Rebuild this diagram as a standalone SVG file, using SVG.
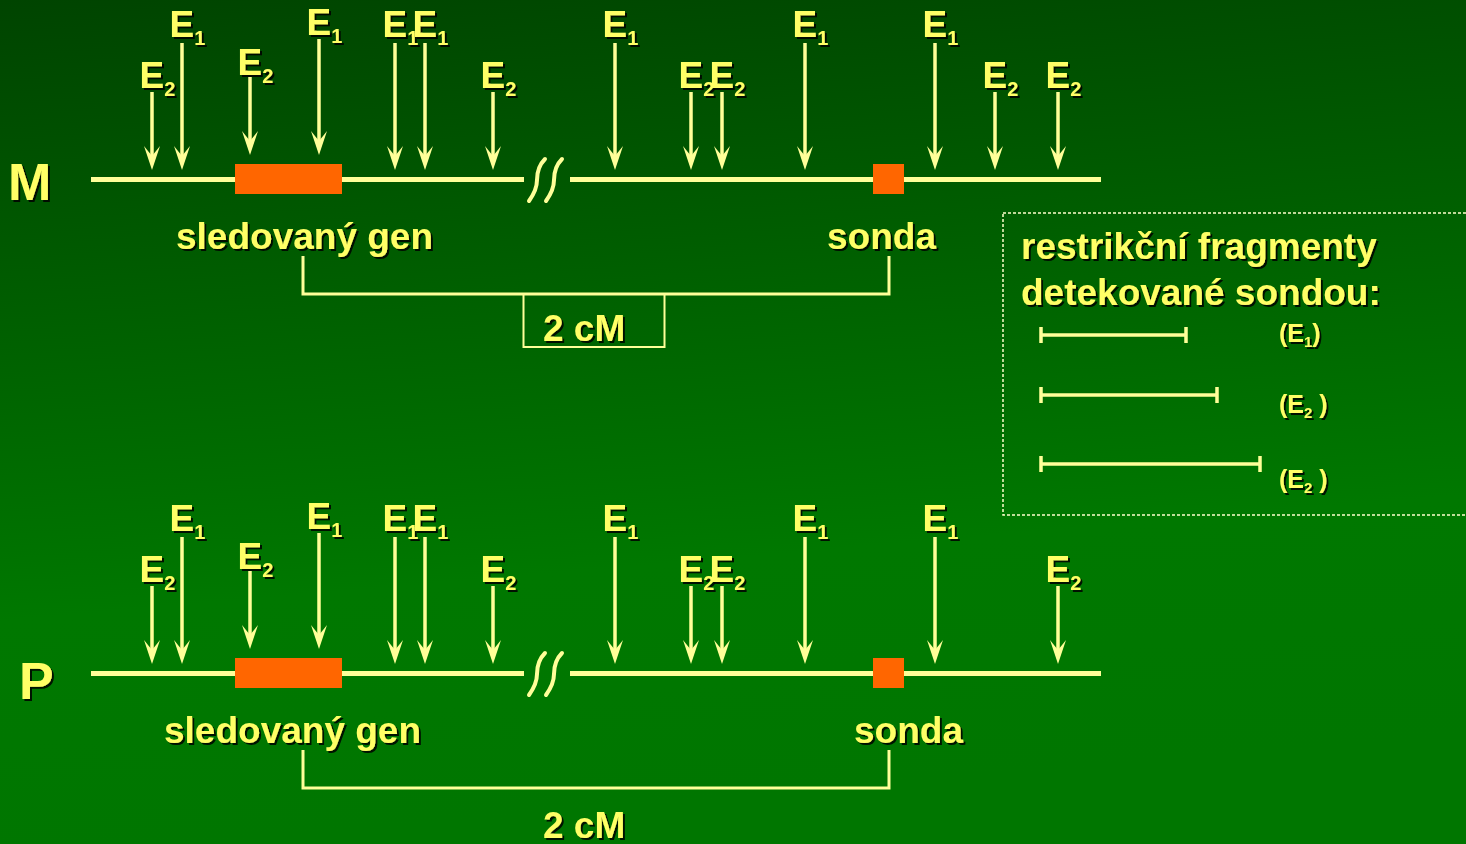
<svg xmlns="http://www.w3.org/2000/svg" width="1466" height="844" viewBox="0 0 1466 844">
<defs>
<linearGradient id="bg" x1="0" y1="0" x2="0.15" y2="1">
<stop offset="0" stop-color="#004400"/>
<stop offset="0.72" stop-color="#007800"/>
<stop offset="1" stop-color="#007600"/>
</linearGradient>
<filter id="sh" x="-10%" y="-10%" width="130%" height="140%">
<feDropShadow dx="2" dy="2" stdDeviation="0.4" flood-color="#000" flood-opacity="0.85"/>
</filter>
<marker id="ah" viewBox="0 0 24 16" refX="10" refY="8" markerWidth="24" markerHeight="16" markerUnits="userSpaceOnUse" orient="auto">
<path d="M0,0 L24,8 L0,16 L10,8 Z" fill="#ffff99"/>
</marker>
<style>
.t{font-family:"Liberation Sans",Arial,sans-serif;font-weight:bold;fill:#ffff66;filter:url(#sh);}
.e{font-size:37px;}
.s{font-size:20px;}
.big{font-size:52px;}
.lg{font-size:25px;}
.ls{font-size:15px;}
.chr{stroke:#ffff99;stroke-width:5;fill:none;}
.arr{stroke:#ffff99;stroke-width:3.5;marker-end:url(#ah);}
.brk{stroke:#ffff99;stroke-width:4;fill:none;stroke-linecap:round;}
.brace{stroke:#ffff99;stroke-width:3;fill:none;}
.gene{fill:#ff6600;}
.leg{stroke:#ffff99;stroke-width:3.5;fill:none;}
</style>
</defs>
<rect x="0" y="0" width="1466" height="844" fill="url(#bg)"/>

<g id="chromosome-M">
<line class="chr" x1="91" y1="179.5" x2="524" y2="179.5"/>
<line class="chr" x1="570" y1="179.5" x2="1101" y2="179.5"/>
<path class="brk" d="M529,201 C534,194 537,188 537,180 C537,172 540,164 545,159"/>
<path class="brk" d="M546,201 C551,194 554,188 554,180 C554,172 557,164 562,159"/>
<text class="t big" x="8" y="200">M</text>
</g>
<g id="gene-M"><rect class="gene" x="235" y="164" width="107" height="30"/>
<text class="t e" x="176" y="249">sledovaný gen</text></g>
<g id="probe-M"><rect class="gene" x="873" y="164" width="31" height="30"/>
<text class="t e" x="827" y="249">sonda</text></g>

<g id="chromosome-P">
<line class="chr" x1="91" y1="673.5" x2="524" y2="673.5"/>
<line class="chr" x1="570" y1="673.5" x2="1101" y2="673.5"/>
<path class="brk" d="M529,695 C534,688 537,682 537,674 C537,666 540,658 545,653"/>
<path class="brk" d="M546,695 C551,688 554,682 554,674 C554,666 557,658 562,653"/>
<text class="t big" x="19" y="699">P</text>
</g>
<g id="gene-P"><rect class="gene" x="235" y="658" width="107" height="30"/>
<text class="t e" x="164" y="743">sledovaný gen</text></g>
<g id="probe-P"><rect class="gene" x="873" y="658" width="31" height="30"/>
<text class="t e" x="854" y="743">sonda</text></g>

<g id="connectors">
<line class="arr" x1="152" y1="92" x2="152" y2="156"/>
<line class="arr" x1="182" y1="43" x2="182" y2="156"/>
<line class="arr" x1="250" y1="77" x2="250" y2="141"/>
<line class="arr" x1="319" y1="39" x2="319" y2="141"/>
<line class="arr" x1="395" y1="43" x2="395" y2="156"/>
<line class="arr" x1="425" y1="43" x2="425" y2="156"/>
<line class="arr" x1="493" y1="92" x2="493" y2="156"/>
<line class="arr" x1="615" y1="43" x2="615" y2="156"/>
<line class="arr" x1="691" y1="92" x2="691" y2="156"/>
<line class="arr" x1="722" y1="92" x2="722" y2="156"/>
<line class="arr" x1="805" y1="43" x2="805" y2="156"/>
<line class="arr" x1="935" y1="43" x2="935" y2="156"/>
<line class="arr" x1="995" y1="92" x2="995" y2="156"/>
<line class="arr" x1="1058" y1="92" x2="1058" y2="156"/>
<line class="arr" x1="152" y1="586" x2="152" y2="650"/>
<line class="arr" x1="182" y1="537" x2="182" y2="650"/>
<line class="arr" x1="250" y1="571" x2="250" y2="635"/>
<line class="arr" x1="319" y1="533" x2="319" y2="635"/>
<line class="arr" x1="395" y1="537" x2="395" y2="650"/>
<line class="arr" x1="425" y1="537" x2="425" y2="650"/>
<line class="arr" x1="493" y1="586" x2="493" y2="650"/>
<line class="arr" x1="615" y1="537" x2="615" y2="650"/>
<line class="arr" x1="691" y1="586" x2="691" y2="650"/>
<line class="arr" x1="722" y1="586" x2="722" y2="650"/>
<line class="arr" x1="805" y1="537" x2="805" y2="650"/>
<line class="arr" x1="935" y1="537" x2="935" y2="650"/>
<line class="arr" x1="1058" y1="586" x2="1058" y2="650"/>
<polyline class="brace" points="303,256 303,294 889,294 889,256"/>
<rect x="523.5" y="294" width="141" height="53" fill="none" stroke="#ffff99" stroke-width="2"/>
<polyline class="brace" points="303,750 303,788 889,788 889,750"/>
</g>

<g id="labels-M">
<text class="t e" x="139.5" y="88">E<tspan class="s" dy="8">2</tspan></text>
<text class="t e" x="169.5" y="37">E<tspan class="s" dy="8">1</tspan></text>
<text class="t e" x="237.5" y="75">E<tspan class="s" dy="8">2</tspan></text>
<text class="t e" x="306.5" y="35">E<tspan class="s" dy="8">1</tspan></text>
<text class="t e" x="382.5" y="37">E<tspan class="s" dy="8">1</tspan></text>
<text class="t e" x="412.5" y="37">E<tspan class="s" dy="8">1</tspan></text>
<text class="t e" x="480.5" y="88">E<tspan class="s" dy="8">2</tspan></text>
<text class="t e" x="602.5" y="37">E<tspan class="s" dy="8">1</tspan></text>
<text class="t e" x="678.5" y="88">E<tspan class="s" dy="8">2</tspan></text>
<text class="t e" x="709.5" y="88">E<tspan class="s" dy="8">2</tspan></text>
<text class="t e" x="792.5" y="37">E<tspan class="s" dy="8">1</tspan></text>
<text class="t e" x="922.5" y="37">E<tspan class="s" dy="8">1</tspan></text>
<text class="t e" x="982.5" y="88">E<tspan class="s" dy="8">2</tspan></text>
<text class="t e" x="1045.5" y="88">E<tspan class="s" dy="8">2</tspan></text>
<text class="t e" x="543" y="341">2 cM</text>
</g>

<g id="labels-P">
<text class="t e" x="139.5" y="582">E<tspan class="s" dy="8">2</tspan></text>
<text class="t e" x="169.5" y="531">E<tspan class="s" dy="8">1</tspan></text>
<text class="t e" x="237.5" y="569">E<tspan class="s" dy="8">2</tspan></text>
<text class="t e" x="306.5" y="529">E<tspan class="s" dy="8">1</tspan></text>
<text class="t e" x="382.5" y="531">E<tspan class="s" dy="8">1</tspan></text>
<text class="t e" x="412.5" y="531">E<tspan class="s" dy="8">1</tspan></text>
<text class="t e" x="480.5" y="582">E<tspan class="s" dy="8">2</tspan></text>
<text class="t e" x="602.5" y="531">E<tspan class="s" dy="8">1</tspan></text>
<text class="t e" x="678.5" y="582">E<tspan class="s" dy="8">2</tspan></text>
<text class="t e" x="709.5" y="582">E<tspan class="s" dy="8">2</tspan></text>
<text class="t e" x="792.5" y="531">E<tspan class="s" dy="8">1</tspan></text>
<text class="t e" x="922.5" y="531">E<tspan class="s" dy="8">1</tspan></text>
<text class="t e" x="1045.5" y="582">E<tspan class="s" dy="8">2</tspan></text>
<text class="t e" x="543" y="838">2 cM</text>
</g>

<g id="legend">
<rect x="1003" y="213" width="480" height="302" fill="none" stroke="#ffffcc" stroke-width="1.5" stroke-dasharray="3 2"/>
<text class="t e" x="1021" y="259">restrikční fragmenty</text>
<text class="t e" x="1021" y="305">detekované sondou:</text>
<path class="leg" d="M1041,335 H1186 M1041,327 V343 M1186,327 V343"/>
<path class="leg" d="M1041,395 H1217 M1041,387 V403 M1217,387 V403"/>
<path class="leg" d="M1041,464 H1260 M1041,456 V472 M1260,456 V472"/>
<text class="t lg" x="1279" y="342">(E<tspan class="ls" dy="5">1</tspan><tspan dy="-5">)</tspan></text>
<text class="t lg" x="1279" y="413">(E<tspan class="ls" dy="5">2</tspan><tspan dy="-5"> )</tspan></text>
<text class="t lg" x="1279" y="488">(E<tspan class="ls" dy="5">2</tspan><tspan dy="-5"> )</tspan></text>
</g>
</svg>
